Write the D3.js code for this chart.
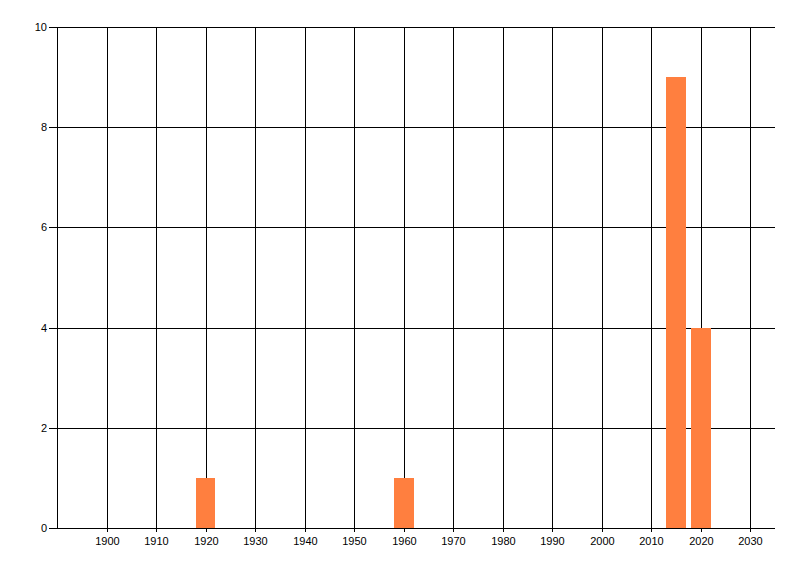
<!DOCTYPE html>
<html><head><meta charset="utf-8">
<script src="https://cdn.jsdelivr.net/npm/d3@7"></script>
<style>body{margin:0;background:#fff}svg{display:block}text{font-family:"Liberation Sans",Arial,sans-serif;font-size:11px;fill:#000}</style>
</head><body><svg id="c" width="800" height="576"></svg>
<script>
const years = [1920, 1960, 2015, 2020];
const counts = [1, 1, 9, 4];
const xTicks = [1900,1910,1920,1930,1940,1950,1960,1970,1980,1990,2000,2010,2020,2030];
const yTicks = [0,2,4,6,8,10];
const barWidthYears = 4;

const svg = d3.select("#c");
const x = d3.scaleLinear().domain([1890, 2035]).range([57, 775]);
const y = d3.scaleLinear().domain([0, 10]).range([528, 27]);
const g = svg.append("g").attr("shape-rendering","crispEdges");

// horizontal gridlines + y ticks
g.selectAll("line.h").data(yTicks).enter().append("line")
  .attr("x1", 49).attr("x2", 775)
  .attr("y1", d=>Math.round(y(d))+0.5).attr("y2", d=>Math.round(y(d))+0.5)
  .attr("stroke","#000");
// vertical gridlines + x ticks
g.selectAll("line.v").data(xTicks).enter().append("line")
  .attr("x1", d=>Math.round(x(d))+0.5).attr("x2", d=>Math.round(x(d))+0.5)
  .attr("y1", Math.round(y(10))).attr("y2", 532)
  .attr("stroke","#000");

// bars (over gridlines)
g.selectAll("rect.bar").data(years).enter().append("rect")
  .attr("x", (d)=>Math.round(x(d - barWidthYears/2)))
  .attr("width", (d)=>Math.round(x(d + barWidthYears/2)) - Math.round(x(d - barWidthYears/2)))
  .attr("y", (d,i)=>Math.round(y(counts[i])))
  .attr("height", (d,i)=>Math.round(y(0)) - Math.round(y(counts[i])))
  .attr("fill", "#ff7f3f");

// axes on top
g.append("line").attr("x1", 57).attr("x2", 775).attr("y1", Math.round(y(0))+0.5).attr("y2", Math.round(y(0))+0.5).attr("stroke","#000");
g.append("line").attr("x1", 57.5).attr("x2", 57.5).attr("y1", Math.round(y(10))).attr("y2", Math.round(y(0))+1).attr("stroke","#000");

// labels
svg.selectAll("text.y").data(yTicks).enter().append("text")
  .attr("x", 47).attr("y", d=>Math.round(y(d))+0.5).attr("dy","0.35em")
  .attr("text-anchor","end").text(d=>d);
svg.selectAll("text.x").data(xTicks).enter().append("text")
  .attr("x", d=>Math.round(x(d))+0.5).attr("y", 541).attr("dy","0.35em")
  .attr("text-anchor","middle").text(d=>d);
</script></body></html>
